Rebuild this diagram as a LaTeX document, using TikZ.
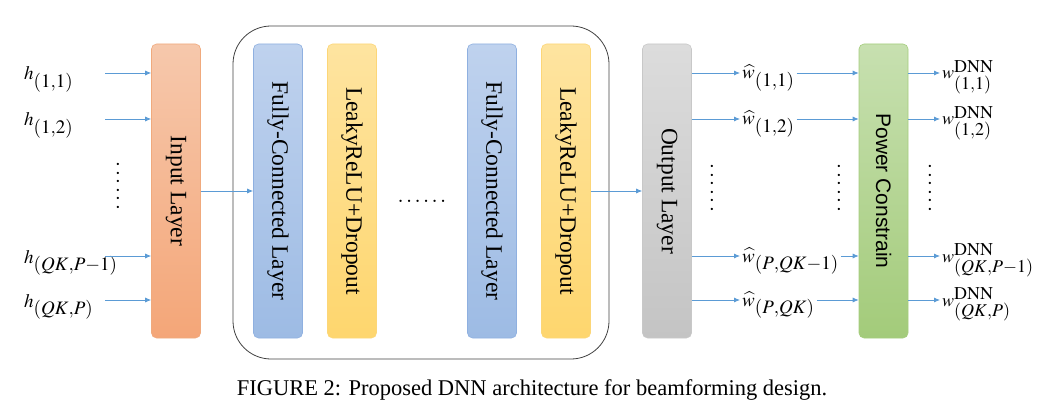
\documentclass[tikz,border=0pt]{standalone}
\usepackage{mathptmx}
\usepackage[no-math]{fontspec}
\usepackage{graphicx}
\setmainfont{Liberation Serif}
\newfontfamily\pcfont{Liberation Sans}
\usetikzlibrary{arrows.meta}

\definecolor{flowblue}{RGB}{91,155,213}
\definecolor{inTop}{RGB}{246,200,172}
\definecolor{inBot}{RGB}{244,166,120}
\definecolor{inEdge}{RGB}{240,170,125}
\definecolor{fcTop}{RGB}{191,210,238}
\definecolor{fcBot}{RGB}{157,187,228}
\definecolor{fcEdge}{RGB}{143,176,224}
\definecolor{lrTop}{RGB}{254,228,160}
\definecolor{lrBot}{RGB}{254,214,110}
\definecolor{lrEdge}{RGB}{252,214,120}
\definecolor{outTop}{RGB}{220,220,220}
\definecolor{outBot}{RGB}{196,196,196}
\definecolor{outEdge}{RGB}{200,200,200}
\definecolor{pcTop}{RGB}{199,224,176}
\definecolor{pcBot}{RGB}{163,203,122}
\definecolor{pcEdge}{RGB}{165,205,125}

\tikzset{
  layer/.style={rounded corners=5pt, minimum width=49pt, minimum height=294pt,
    inner sep=0pt, line width=0.6pt, font=\fontsize{23.5}{28}\selectfont},
  inlayer/.style={layer, draw=inEdge, top color=inTop, bottom color=inBot},
  fclayer/.style={layer, draw=fcEdge, top color=fcTop, bottom color=fcBot},
  relulayer/.style={layer, draw=lrEdge, top color=lrTop, bottom color=lrBot},
  outlayer/.style={layer, draw=outEdge, top color=outTop, bottom color=outBot},
  pclayer/.style={layer, draw=pcEdge, top color=pcTop, bottom color=pcBot,
    font=\pcfont\fontsize{21}{25}\selectfont},
  hidblock/.style={draw=black!75, line width=0.8pt, rounded corners=38pt,
    minimum width=376pt, minimum height=333pt},
  flow/.style={-{Latex[length=6pt,width=5pt]}, flowblue, line width=0.8pt},
  sublab/.style={anchor=base west, inner sep=2pt, font=\fontsize{19}{22}\selectfont},
  dnnlab/.style={anchor=base west, inner sep=2pt, font=\fontsize{18}{22}\selectfont},
  dotsmark/.style={inner sep=0pt, font=\fontsize{22}{26}\selectfont},
}

\begin{document}
\begin{tikzpicture}[x=1pt,y=-1pt]
  \useasboundingbox (0,0) rectangle (1051,406);

  % hidden part
  \node[hidblock] (hid) at (421,192.5) {};

  % layers
  \node[inlayer] (inp) at (176,191) {\rotatebox{-90}{Input Layer}};
  \node[fclayer] (fc1) at (278,191) {\rotatebox{-90}{Fully-Connected Layer}};
  \node[relulayer] (lr1) at (352,191) {\rotatebox{-90}{LeakyReLU+Dropout}};
  \node[fclayer] (fc2) at (492,191) {\rotatebox{-90}{Fully-Connected Layer}};
  \node[relulayer] (lr2) at (566,191) {\rotatebox{-90}{LeakyReLU+Dropout}};
  \node[outlayer] (out) at (667,191) {\rotatebox{-90}{Output Layer}};
  \node[pclayer] (pc) at (883.5,191) {\rotatebox{-90}{Power Constrain}};

  % dots
  \node[dotsmark, rotate=90] (din) at (118,186) {$\ldots\ldots$};
  \node[dotsmark, anchor=base] (dmid) at (422,202) {$\ldots\ldots$};
  \node[dotsmark, rotate=90] (dout) at (712,188) {$\ldots\ldots$};
  \node[dotsmark, rotate=90] (dwh) at (839,188) {$\ldots\ldots$};
  \node[dotsmark, rotate=90] (dwd) at (930,188) {$\ldots\ldots$};

  \draw[flow] (inp.east) -- (fc1.west);
  \draw[flow] (lr2.east) -- (out.west);

  % rows of inputs and outputs
  \foreach \i/\y/\a/\b in {1/73/{(1{,}1)}/{(1{,}1)}, 2/119/{(1{,}2)}/{(1{,}2)},
      3/256/{(QK{,}P{-}1)}/{(P{,}QK{-}1)}, 4/300/{(QK{,}P)}/{(P{,}QK)}} {
    \coordinate (row\i) at (105,\y);
    \node[sublab] (h\i) at (22,\y+7) {$h_{\textstyle\a}$};
    \node[sublab] (wh\i) at (740,\y+6) {$\widehat{w}_{\textstyle\b}$};
    \node[dnnlab] (wd\i) at (940,\y+6) {$w^{\textstyle\mathrm{DNN}}_{\textstyle\a}$};
    \draw[flow] (row\i) -- (inp.west|-row\i);
    \draw[flow] (out.east|-row\i) -- (wh\i.west|-row\i);
    \draw[flow] (wh\i.east|-row\i) -- (pc.west|-row\i);
    \draw[flow] (pc.east|-row\i) -- (wd\i.west|-row\i);
  }

  \node[anchor=base, font=\fontsize{22.5}{27}\selectfont] (cap) at (532,395)
    {FIGURE 2: Proposed DNN architecture for beamforming design.};
\end{tikzpicture}
\end{document}
